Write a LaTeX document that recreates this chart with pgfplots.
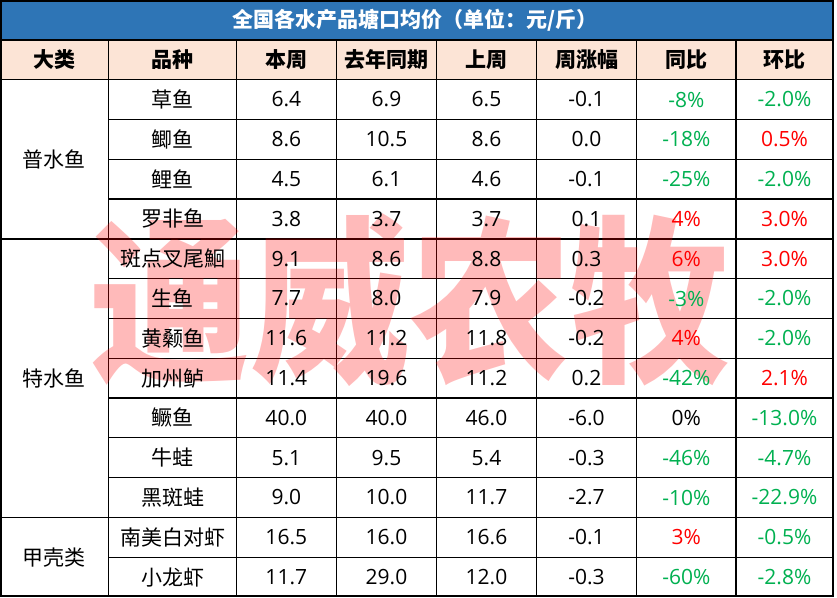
\documentclass[border=0pt]{standalone}
\usepackage{fontspec}
\setmainfont{Open Sans}
\newfontfamily\cjk{Noto Sans CJK SC}
\usepackage{pgfplots}
\usepackage{pgfplotstable}
\pgfplotsset{compat=1.18}
\definecolor{titleblue}{HTML}{2E75B6}
\definecolor{headpeach}{HTML}{FCE4D6}
\definecolor{upgreen}{HTML}{00B050}
\definecolor{downred}{HTML}{FF0000}

\pgfplotstableread{
y name bz qn sz zf
2.5 草鱼 6.4 6.9 6.5 -0.1
3.5 鲫鱼 8.6 10.5 8.6 0.0
4.5 鲤鱼 4.5 6.1 4.6 -0.1
5.5 罗非鱼 3.8 3.7 3.7 0.1
6.5 斑点叉尾鮰 9.1 8.6 8.8 0.3
7.5 生鱼 7.7 8.0 7.9 -0.2
8.5 黄颡鱼 11.6 11.2 11.8 -0.2
9.5 加州鲈 11.4 19.6 11.2 0.2
10.5 鳜鱼 40.0 40.0 46.0 -6.0
11.5 牛蛙 5.1 9.5 5.4 -0.3
12.5 黑斑蛙 9.0 10.0 11.7 -2.7
13.5 南美白对虾 16.5 16.0 16.6 -0.1
14.5 小龙虾 11.7 29.0 12.0 -0.3
}\main

\pgfplotstableread{
x y t
686.3 2.5 -8
686.3 3.5 -18
686.3 4.5 -25
686.3 7.5 -3
686.3 9.5 -42
686.3 11.5 -46
686.3 12.5 -10
686.3 14.5 -60
784.5 2.5 -2.0
784.5 4.5 -2.0
784.5 7.5 -2.0
784.5 8.5 -2.0
784.5 10.5 -13.0
784.5 11.5 -4.7
784.5 12.5 -22.9
784.5 13.5 -0.5
784.5 14.5 -2.8
}\tbgreen

\pgfplotstableread{
x y t
686.3 5.5 4
686.3 6.5 6
686.3 8.5 4
686.3 13.5 3
784.5 3.5 0.5
784.5 5.5 3.0
784.5 6.5 3.0
784.5 9.5 2.1
}\tbred

\pgfplotstableread{
x y t
686.3 10.5 0
}\tbblack

\pgfplotstableread{
x y t
54.3 1.5 大类
172.5 1.5 品种
286.3 1.5 本周
386.5 1.5 去年同期
486.5 1.5 上周
586.5 1.5 周涨幅
686.3 1.5 同比
784.5 1.5 环比
}\tbhead

\pgfplotstableread{
x y t
54.3 4 普水鱼
54.3 9.5 特水鱼
54.3 14 甲壳类
}\tbgroup

\pgfplotstableread{
x y t
415 0.5 全国各水产品塘口均价（单位：元/斤）
}\tbtitle

\pgfplotsset{
  txt/.style={draw=none, no markers, nodes near coords, point meta=explicit symbolic,
    every node near coord/.append style={anchor=center, inner sep=0pt}},
}

\begin{document}
\begin{tikzpicture}
\begin{axis}[scale only axis, width=837pt, height=597pt,
  xmin=0, xmax=837, ymin=0, ymax=15, y dir=reverse, hide axis, clip=false]
\fill[titleblue] (0,0) rectangle (833,1);
\fill[headpeach] (0,1) rectangle (833,2);
% inner horizontal rules
\pgfplotsinvokeforeach{3,4,5,7,8,9,10,11,12,14}{
  \draw[line width=1.3pt] (108.7,#1) -- (833,#1);
}
\pgfplotsinvokeforeach{1,2,6,13}{
  \draw[line width=1.7pt] (0,#1) -- (833,#1);
}
\pgfplotsinvokeforeach{108.7,236.3,336.3,436.7,536.3,636.7,736}{
  \draw[line width=1.3pt] (#1,1) -- (#1,15);
}
\draw[line width=2pt] (1,0.025) rectangle (832.5,14.97);

% title
\addplot[txt, every node near coord/.append style={font=\cjk\bfseries\fontsize{21}{25}\selectfont, text=white}]
  table[x=x, y=y, meta=t]{\tbtitle};
% header
\addplot[txt, every node near coord/.append style={font=\cjk\bfseries\fontsize{21}{25}\selectfont, text=black}]
  table[x=x, y=y, meta=t]{\tbhead};
% group
\addplot[txt, every node near coord/.append style={font=\cjk\fontsize{21}{25}\selectfont, text=black}]
  table[x=x, y=y, meta=t]{\tbgroup};
% names
\addplot[txt, every node near coord/.append style={font=\cjk\fontsize{21}{25}\selectfont, text=black}]
  table[x expr=172.5, y=y, meta=name]{\main};
% numbers
\addplot[txt, every node near coord/.append style={font=\fontsize{21}{25}\selectfont, text=black}]
  table[x expr=286.3, y=y, meta=bz]{\main};
\addplot[txt, every node near coord/.append style={font=\fontsize{21}{25}\selectfont, text=black}]
  table[x expr=386.5, y=y, meta=qn]{\main};
\addplot[txt, every node near coord/.append style={font=\fontsize{21}{25}\selectfont, text=black}]
  table[x expr=486.5, y=y, meta=sz]{\main};
\addplot[txt, every node near coord/.append style={font=\fontsize{21}{25}\selectfont, text=black}]
  table[x expr=586.5, y=y, meta=zf]{\main};
% percentages
\addplot[txt, nodes near coords={\pgfplotspointmeta\%}, every node near coord/.append style={font=\fontsize{21}{25}\selectfont, text=upgreen}]
  table[x=x, y=y, meta=t]{\tbgreen};
\addplot[txt, nodes near coords={\pgfplotspointmeta\%}, every node near coord/.append style={font=\fontsize{21}{25}\selectfont, text=downred}]
  table[x=x, y=y, meta=t]{\tbred};
\addplot[txt, nodes near coords={\pgfplotspointmeta\%}, every node near coord/.append style={font=\fontsize{21}{25}\selectfont, text=black}]
  table[x=x, y=y, meta=t]{\tbblack};

% watermark
\node[text=red, opacity=0.27, font=\cjk\bfseries\fontsize{160}{160}\selectfont, inner sep=0pt, yscale=1.12]
  at (410,7.54) {通威农牧};
\end{axis}
\pgfresetboundingbox
\path (current axis.south west) rectangle (current axis.north east);
\end{tikzpicture}
\end{document}
